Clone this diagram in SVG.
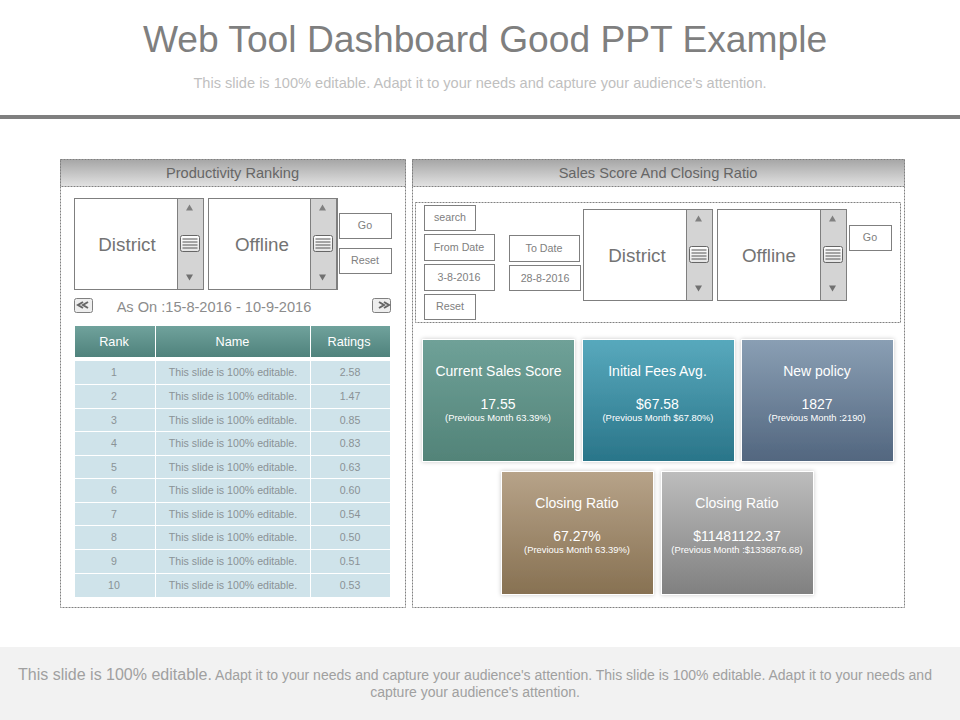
<svg xmlns="http://www.w3.org/2000/svg" width="960" height="720" viewBox="0 0 960 720">
<style>
text{font-family:"Liberation Sans",Arial,sans-serif;text-anchor:middle}
.panel{fill:#fff;stroke:#808080;stroke-width:1;stroke-dasharray:2 1}
.head{fill:url(#gHead);stroke:#808080;stroke-width:1;stroke-dasharray:2 1}
.ht{font-size:14.600px;fill:#666}
.box{fill:#fff;stroke:#7f7f7f;stroke-width:1}
.bar{fill:#d4d4d4;stroke:#7f7f7f;stroke-width:1}
.big{font-size:18.800px;fill:#737373}
.btn{font-size:10.700px;fill:#808080}
.th{font-size:12.700px;fill:#fff}
.row{fill:#cfe3ea}
.td{font-size:10.600px;fill:#8a9296}
.ct{font-size:14px;fill:#fff}
.cs{font-size:9.400px;fill:#fff}
.card{stroke:#fff;stroke-width:1;filter:url(#sh)}
.lines{stroke:#555;stroke-width:1}
</style>
<defs>
<linearGradient id="gHead" x1="0" y1="0" x2="0" y2="1"><stop offset="0" stop-color="#a6a6a6"/><stop offset="1" stop-color="#e2e2e2"/></linearGradient>
<linearGradient id="gTh" x1="0" y1="0" x2="0" y2="1"><stop offset="0" stop-color="#70a29c"/><stop offset="1" stop-color="#4f827c"/></linearGradient>
<linearGradient id="g1" x1="0" y1="0" x2="0" y2="1"><stop offset="0" stop-color="#6fa198"/><stop offset="1" stop-color="#528378"/></linearGradient>
<linearGradient id="g2" x1="0" y1="0" x2="0" y2="1"><stop offset="0" stop-color="#58a9bd"/><stop offset="1" stop-color="#2a7589"/></linearGradient>
<linearGradient id="g3" x1="0" y1="0" x2="0" y2="1"><stop offset="0" stop-color="#8a9fb4"/><stop offset="1" stop-color="#52667f"/></linearGradient>
<linearGradient id="g4" x1="0" y1="0" x2="0" y2="1"><stop offset="0" stop-color="#b7a389"/><stop offset="1" stop-color="#877152"/></linearGradient>
<linearGradient id="g5" x1="0" y1="0" x2="0" y2="1"><stop offset="0" stop-color="#bdbdbd"/><stop offset="1" stop-color="#808080"/></linearGradient>
<linearGradient id="gGrip" x1="0" y1="0" x2="0" y2="1"><stop offset="0" stop-color="#fff"/><stop offset="1" stop-color="#e4e4e4"/></linearGradient>
<filter id="sh" x="-5%" y="-5%" width="110%" height="110%"><feDropShadow dx="0" dy="0" stdDeviation="2" flood-color="#000" flood-opacity="0.22"/></filter>
<g id="scroll">
<rect class="bar" x="0" y="0" width="26" height="91"/>
<path d="M12 6l3.500 6h-7z" fill="#808080"/>
<path d="M12 82l-3.500-6h7z" fill="#707070"/>
<rect x="3" y="37" width="19" height="16" rx="2" fill="url(#gGrip)" stroke="#666"/>
<path class="lines" d="M5 40.500h15M5 43.500h15M5 46.500h15M5 49.500h15"/>
</g>
<g id="nav"><rect x="0" y="0" width="18" height="14" rx="2" fill="#eee" stroke="#808080"/></g>
</defs>
<rect id="background" width="960" height="720" fill="#fff"/>
<g id="title">
<text x="485" y="52" font-size="37.200" fill="#7f7f7f">Web Tool Dashboard Good PPT Example</text>
<text x="480" y="88" font-size="14.600" fill="#bfbfbf">This slide is 100% editable. Adapt it to your needs and capture your audience's attention.</text>
</g>
<rect id="rule" x="0" y="115" width="960" height="4" fill="#7f7f7f"/>

<g id="panel-left">
<rect class="panel" x="60.500" y="159.500" width="345" height="448"/>
<rect class="head" x="60.500" y="159.500" width="345" height="27"/>
<text class="ht" x="232.500" y="178">Productivity Ranking</text>
</g>
<g id="left-district">
<rect class="box" x="74.500" y="198.500" width="129" height="91"/>
<use href="#scroll" x="177.500" y="198.500"/>
<text class="big" x="127" y="251">District</text>
</g>
<g id="left-offline">
<rect class="box" x="208.500" y="198.500" width="129" height="91"/>
<use href="#scroll" x="310.500" y="198.500"/>
<text class="big" x="262" y="251">Offline</text>
</g>
<g id="left-go"><rect class="box" x="339.500" y="213.500" width="52" height="25"/><text class="btn" x="365" y="229">Go</text></g>
<g id="left-reset"><rect class="box" x="339.500" y="248.500" width="52" height="25"/><text class="btn" x="365" y="264">Reset</text></g>
<g id="date-nav">
<use href="#nav" x="74.500" y="298.500"/>
<path d="M83 302l-5 3 5 3M88 302l-5 3 5 3" fill="none" stroke="#666" stroke-width="2"/>
<use href="#nav" x="372.500" y="298.500"/>
<path d="M379 302l5 3-5 3M384 302l5 3-5 3" fill="none" stroke="#666" stroke-width="2"/>
<text x="214" y="312" font-size="14.600" fill="#8c8c8c">As On :15-8-2016 - 10-9-2016</text>
</g>
<g id="table">
<rect x="75" y="326" width="80" height="31" fill="url(#gTh)"/>
<rect x="156" y="326" width="154" height="31" fill="url(#gTh)"/>
<rect x="311" y="326" width="79" height="31" fill="url(#gTh)"/>
<text class="th" x="114" y="346">Rank</text><text class="th" x="232.500" y="346">Name</text><text class="th" x="349" y="346">Ratings</text>
<g id="row-1"><rect class="row" x="75" y="361" width="80" height="23"/><rect class="row" x="156" y="361" width="154" height="23"/><rect class="row" x="311" y="361" width="79" height="23"/><text class="td" x="114" y="376">1</text><text class="td" x="233" y="376">This slide is 100% editable.</text><text class="td" x="350" y="376">2.58</text></g>
<g id="row-2"><rect class="row" x="75" y="385" width="80" height="23"/><rect class="row" x="156" y="385" width="154" height="23"/><rect class="row" x="311" y="385" width="79" height="23"/><text class="td" x="114" y="400">2</text><text class="td" x="233" y="400">This slide is 100% editable.</text><text class="td" x="350" y="400">1.47</text></g>
<g id="row-3"><rect class="row" x="75" y="409" width="80" height="22"/><rect class="row" x="156" y="409" width="154" height="22"/><rect class="row" x="311" y="409" width="79" height="22"/><text class="td" x="114" y="424">3</text><text class="td" x="233" y="424">This slide is 100% editable.</text><text class="td" x="350" y="424">0.85</text></g>
<g id="row-4"><rect class="row" x="75" y="432" width="80" height="23"/><rect class="row" x="156" y="432" width="154" height="23"/><rect class="row" x="311" y="432" width="79" height="23"/><text class="td" x="114" y="447">4</text><text class="td" x="233" y="447">This slide is 100% editable.</text><text class="td" x="350" y="447">0.83</text></g>
<g id="row-5"><rect class="row" x="75" y="456" width="80" height="22"/><rect class="row" x="156" y="456" width="154" height="22"/><rect class="row" x="311" y="456" width="79" height="22"/><text class="td" x="114" y="471">5</text><text class="td" x="233" y="471">This slide is 100% editable.</text><text class="td" x="350" y="471">0.63</text></g>
<g id="row-6"><rect class="row" x="75" y="479" width="80" height="23"/><rect class="row" x="156" y="479" width="154" height="23"/><rect class="row" x="311" y="479" width="79" height="23"/><text class="td" x="114" y="494">6</text><text class="td" x="233" y="494">This slide is 100% editable.</text><text class="td" x="350" y="494">0.60</text></g>
<g id="row-7"><rect class="row" x="75" y="503" width="80" height="22"/><rect class="row" x="156" y="503" width="154" height="22"/><rect class="row" x="311" y="503" width="79" height="22"/><text class="td" x="114" y="518">7</text><text class="td" x="233" y="518">This slide is 100% editable.</text><text class="td" x="350" y="518">0.54</text></g>
<g id="row-8"><rect class="row" x="75" y="526" width="80" height="23"/><rect class="row" x="156" y="526" width="154" height="23"/><rect class="row" x="311" y="526" width="79" height="23"/><text class="td" x="114" y="541">8</text><text class="td" x="233" y="541">This slide is 100% editable.</text><text class="td" x="350" y="541">0.50</text></g>
<g id="row-9"><rect class="row" x="75" y="550" width="80" height="23"/><rect class="row" x="156" y="550" width="154" height="23"/><rect class="row" x="311" y="550" width="79" height="23"/><text class="td" x="114" y="565">9</text><text class="td" x="233" y="565">This slide is 100% editable.</text><text class="td" x="350" y="565">0.51</text></g>
<g id="row-10"><rect class="row" x="75" y="574" width="80" height="23"/><rect class="row" x="156" y="574" width="154" height="23"/><rect class="row" x="311" y="574" width="79" height="23"/><text class="td" x="114" y="589">10</text><text class="td" x="233" y="589">This slide is 100% editable.</text><text class="td" x="350" y="589">0.53</text></g>
</g>

<g id="panel-right">
<rect class="panel" x="412.500" y="159.500" width="492" height="448"/>
<rect class="head" x="412.500" y="159.500" width="492" height="27"/>
<text class="ht" x="658" y="178">Sales Score And Closing Ratio</text>
<rect class="panel" x="415.500" y="202.500" width="485" height="120"/>
</g>
<g id="search"><rect class="box" x="424.500" y="205.500" width="51" height="25"/><text class="btn" x="450" y="221">search</text></g>
<g id="from-date"><rect class="box" x="424.500" y="234.500" width="70" height="26"/><text class="btn" x="459" y="251">From Date</text></g>
<g id="from-value"><rect class="box" x="424.500" y="264.500" width="70" height="26"/><text class="btn" x="459" y="281">3-8-2016</text></g>
<g id="reset"><rect class="box" x="424.500" y="294.500" width="51" height="25"/><text class="btn" x="450" y="310">Reset</text></g>
<g id="to-date"><rect class="box" x="509.500" y="235.500" width="70" height="26"/><text class="btn" x="544" y="252">To Date</text></g>
<g id="to-value"><rect class="box" x="509.500" y="265.500" width="71" height="25"/><text class="btn" x="545" y="282">28-8-2016</text></g>
<g id="right-district">
<rect class="box" x="583.500" y="209.500" width="129" height="91"/>
<use href="#scroll" x="686.500" y="209.500"/>
<text class="big" x="637" y="262">District</text>
</g>
<g id="right-offline">
<rect class="box" x="717.500" y="209.500" width="129" height="91"/>
<use href="#scroll" x="820.500" y="209.500"/>
<text class="big" x="769" y="262">Offline</text>
</g>
<g id="right-go"><rect class="box" x="849.500" y="225.500" width="42" height="25"/><text class="btn" x="870" y="241">Go</text></g>

<g id="card-sales"><rect class="card" x="422.500" y="339.500" width="152" height="122" fill="url(#g1)"/><text class="ct" x="498.500" y="376">Current Sales Score</text><text class="ct" x="498" y="409">17.55</text><text class="cs" x="498" y="421">(Previous Month  63.39%)</text></g>
<g id="card-fees"><rect class="card" x="582.500" y="339.500" width="152" height="122" fill="url(#g2)"/><text class="ct" x="657.500" y="376">Initial Fees Avg.</text><text class="ct" x="657.500" y="409">$67.58</text><text class="cs" x="658" y="421">(Previous Month  $67.80%)</text></g>
<g id="card-policy"><rect class="card" x="741.500" y="339.500" width="152" height="122" fill="url(#g3)"/><text class="ct" x="817" y="376">New  policy</text><text class="ct" x="817" y="409">1827</text><text class="cs" x="817" y="421">(Previous Month  :2190)</text></g>
<g id="card-ratio"><rect class="card" x="501.500" y="471.500" width="152" height="123" fill="url(#g4)"/><text class="ct" x="577" y="508">Closing Ratio</text><text class="ct" x="577" y="541">67.27%</text><text class="cs" x="577" y="553">(Previous Month  63.39%)</text></g>
<g id="card-closing"><rect class="card" x="661.500" y="471.500" width="152" height="123" fill="url(#g5)"/><text class="ct" x="737" y="508">Closing Ratio</text><text class="ct" x="737" y="541">$11481122.37</text><text class="cs" x="737" y="553">(Previous Month  :$1336876.68)</text></g>

<g id="footer">
<rect x="0" y="647" width="960" height="73" fill="#f2f2f2"/>
<text x="475" y="680" font-size="14" fill="#a0a0a0"><tspan font-size="16">This slide is 100% editable.</tspan> Adapt it to your needs and capture your audience's attention. This slide is 100% editable. Adapt it to your needs and</text>
<text x="475" y="697" font-size="14" fill="#a0a0a0">capture your audience's attention.</text>
</g>
</svg>
